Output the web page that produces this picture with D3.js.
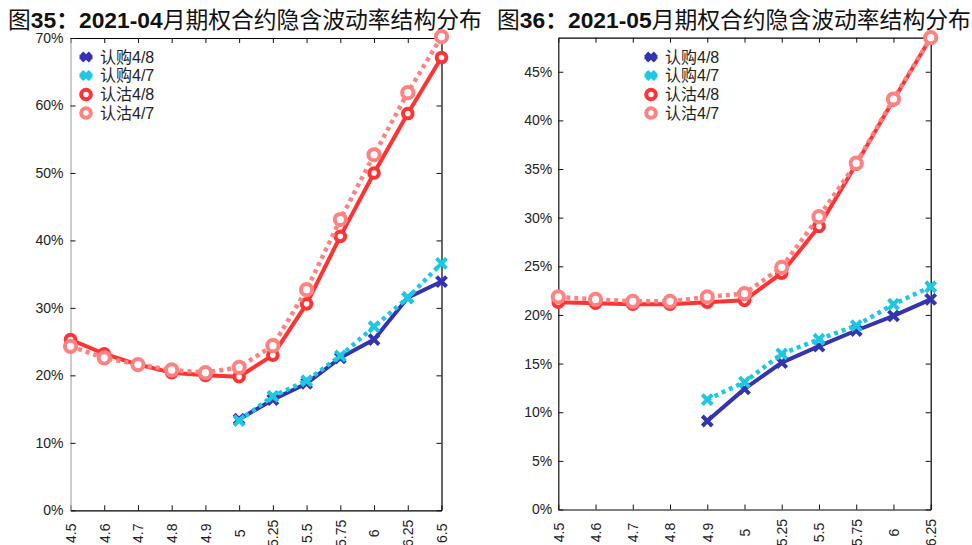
<!DOCTYPE html>
<html><head><meta charset="utf-8">
<script src="https://cdn.jsdelivr.net/npm/d3@7/dist/d3.min.js"></script>
<style>
body{margin:0;background:#fff;}
svg{display:block;}
</style>
</head><body>
<svg id="chart" width="972" height="545"></svg>
<script>
// ---------- data ----------
const strikes04 = ["4.5","4.6","4.7","4.8","4.9","5","5.25","5.5","5.75","6","6.25","6.5"];
const call48_04 = [null,null,null,null,null,13.5,16.4,18.8,22.6,25.3,31.5,33.9];
const call47_04 = [null,null,null,null,null,13.3,16.9,19.2,22.9,27.2,31.5,36.6];
const put48_04  = [25.3,23.2,21.6,20.4,20.0,19.8,23.0,30.6,40.6,50.0,58.8,67.1];
const put47_04  = [24.3,22.6,21.6,20.8,20.4,21.2,24.4,32.7,43.1,52.7,61.9,70.2];
const yTicks04  = [0,10,20,30,40,50,60,70];

const strikes05 = ["4.5","4.6","4.7","4.8","4.9","5","5.25","5.5","5.75","6","6.25"];
const call48_05 = [null,null,null,null,9.1,12.4,15.1,16.8,18.4,19.9,21.6];
const call47_05 = [null,null,null,null,11.3,13.1,16.0,17.5,18.9,21.1,22.9];
const put48_05  = [21.3,21.2,21.1,21.1,21.3,21.5,24.3,29.1,35.5,42.1,48.5];
const put47_05  = [21.85,21.6,21.4,21.4,21.85,22.2,24.9,30.1,35.6,42.2,48.5];
const yTicks05  = [0,5,10,15,20,25,30,35,40,45];

const seriesNames = ["认购4/8","认购4/7","认沽4/8","认沽4/7"];
const titleNum = ["35：","36："];
const titleDate = ["2021-04","2021-05"];
const titleRest = "月期权合约隐含波动率结构分布";

// ---------- styles ----------
const COL = {c48:"#3434b0", c47:"#1ec8e2", p48:"#ff3333", p47:"#ff8282"};
const svg = d3.select("#chart");
const FONT = "'Liberation Sans', Arial, 'Noto Sans CJK SC', sans-serif";

function crossPath(s){ return `M${-s},${-s}L${s},${s}M${-s},${s}L${s},${-s}`; }

function drawPanel(cfg){
  const g = svg.append("g");
  const x = d3.scalePoint().domain(cfg.cats).range([cfg.x0, cfg.x1]).padding(0);
  const y = d3.scaleLinear().domain([0, cfg.ymax]).range([cfg.yb, cfg.yt]);

  // title
  const t = g.append("text").attr("x", cfg.tx).attr("y", 28)
    .attr("font-family", FONT).attr("font-size", 22.8).attr("fill", "#111");
  t.append("tspan").text("图");
  t.append("tspan").attr("font-weight", "bold").text(cfg.num);
  t.append("tspan").attr("font-weight", "bold").text(cfg.date);
  t.append("tspan").text(titleRest);

  // axes
  const ax = g.append("g").attr("font-family", FONT);
  const bottom = ax.append("g").attr("transform", `translate(0,${cfg.yb})`)
    .call(d3.axisBottom(x).tickSizeInner(-5).tickSizeOuter(0));
  bottom.selectAll("text").attr("transform", "translate(0,23) rotate(-90)")
    .attr("x", 0).attr("y", 0).attr("dy", "0.35em").attr("text-anchor", "middle")
    .attr("font-size", 14).attr("fill", "#222");
  ax.append("g").attr("transform", `translate(0,${cfg.yt})`)
    .call(d3.axisTop(x).tickSizeInner(-5).tickSizeOuter(0).tickFormat(""));
  const left = ax.append("g").attr("transform", `translate(${cfg.x0},0)`)
    .call(d3.axisLeft(y).tickValues(cfg.yticks).tickSizeInner(-5).tickSizeOuter(0)
      .tickPadding(cfg.pad).tickFormat(d => d + "%"));
  left.selectAll("text").attr("font-size", 14).attr("fill", "#222");
  ax.append("g").attr("transform", `translate(${cfg.x1},0)`)
    .call(d3.axisRight(y).tickValues(cfg.yticks).tickSizeInner(-5).tickSizeOuter(0).tickFormat(""));
  ax.selectAll(".domain").attr("stroke-width", 1.2);
  left.select(".domain").attr("stroke", cfg.leftCol);
  ax.selectAll(".tick line").attr("stroke", "#111");

  const series = [
    {vals: cfg.c48, col: COL.c48, dash: null, mk: "x", w: 4},
    {vals: cfg.c47, col: COL.c47, dash: "4,4", mk: "x", w: 4.5},
    {vals: cfg.p48, col: COL.p48, dash: null, mk: "o", r: 4.8, w: 4},
    {vals: cfg.p47, col: COL.p47, dash: "4,4", mk: "o", r: 5.6, w: 4.5}
  ];
  const line = d3.line().defined(d => d.v != null).x(d => x(d.c)).y(d => y(d.v));
  series.forEach(s => {
    const pts = cfg.cats.map((c, i) => ({c, v: s.vals[i]}));
    g.append("path").datum(pts).attr("d", line).attr("fill", "none")
      .attr("stroke", s.col).attr("stroke-width", s.w)
      .attr("stroke-dasharray", s.dash).attr("stroke-linejoin", "round");
    const m = g.append("g").selectAll("g").data(pts.filter(d => d.v != null)).join("g")
      .attr("transform", d => `translate(${x(d.c)},${y(d.v)})`);
    if (s.mk === "x") {
      m.append("path").attr("d", crossPath(5)).attr("stroke", s.col).attr("stroke-width", 4).attr("fill", "none");
    } else {
      m.append("circle").attr("r", s.r).attr("fill", "#fff").attr("stroke", s.col).attr("stroke-width", 4);
    }
  });

  // legend
  const lg = g.append("g");
  const rowsY = [57, 75.5, 94.5, 113];
  series.forEach((s, i) => {
    const row = lg.append("g").attr("transform", `translate(${cfg.lx},${rowsY[i]})`);
    if (s.mk === "x") {
      row.append("line").attr("x1", -6.5).attr("x2", 6.5).attr("stroke", s.col).attr("stroke-width", 4.5);
      row.append("path").attr("d", crossPath(4.2)).attr("stroke", s.col).attr("stroke-width", 4);
    } else {
      row.append("circle").attr("r", 4.8).attr("fill", "#fff").attr("stroke", s.col).attr("stroke-width", 4);
    }
    row.append("text").attr("x", 14).attr("dy", "0.35em").attr("font-family", FONT)
      .attr("font-size", 16).attr("fill", "#222").text(seriesNames[i]);
  });
}

drawPanel({cats: strikes04, c48: call48_04, c47: call47_04, p48: put48_04, p47: put47_04,
  yticks: yTicks04, ymax: 70, x0: 70.5, x1: 441.5, yb: 510.3, yt: 38, tx: 8,
  num: titleNum[0], date: titleDate[0], leftCol: "#aaa", pad: 7, lx: 86});
drawPanel({cats: strikes05, c48: call48_05, c47: call47_05, p48: put48_05, p47: put47_05,
  yticks: yTicks05, ymax: 48.5, x0: 558.3, x1: 930.7, yb: 509.5, yt: 37.7, tx: 497,
  num: titleNum[1], date: titleDate[1], leftCol: "#111", pad: 6, lx: 651});
</script>
</body></html>
